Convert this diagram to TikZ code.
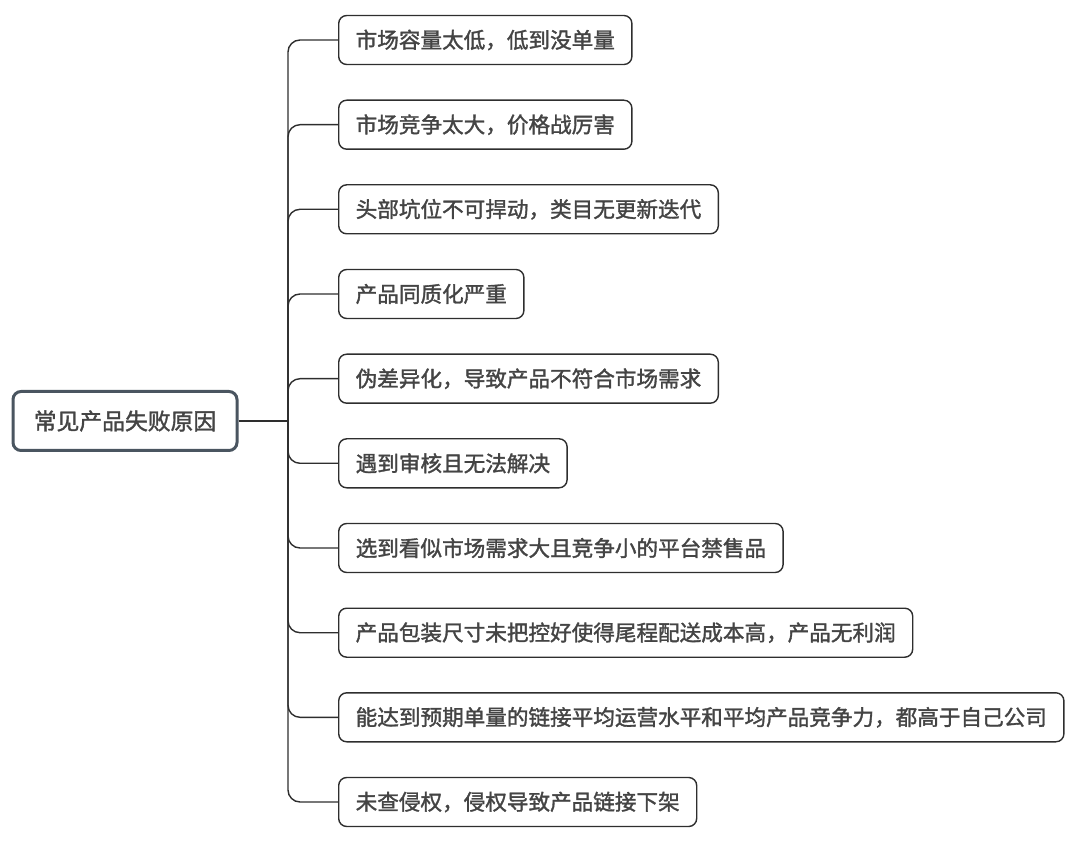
\documentclass[tikz,border=0pt]{standalone}
\usepackage{fontspec}
\setmainfont{Noto Sans CJK SC}[FakeBold=1.5]
\definecolor{txt}{HTML}{444444}
\definecolor{rootline}{HTML}{4A5560}
\definecolor{conn}{HTML}{2E2E2E}
\begin{document}
\begin{tikzpicture}[x=1pt,y=-1pt,
  rootbox/.style={draw=rootline,line width=3pt,rounded corners=8pt,fill=white,text=txt,
    font=\fontsize{22.8}{26}\selectfont,minimum width=224pt,minimum height=59pt,inner sep=0pt},
  leaf/.style={draw=conn,line width=1.4pt,rounded corners=8pt,fill=white,text=txt,
    font=\fontsize{21.6}{25}\selectfont,minimum height=49pt,inner xsep=17pt,inner ysep=0pt,anchor=west},
  link/.style={draw=conn,line width=1.4pt,rounded corners=12pt}]
\useasboundingbox (0,0) rectangle (1080,842);
\node[rootbox] (root) at (125,421) {常见产品失败原因};
\coordinate (j) at (288,421);
\node[leaf] (c1) at (338,40) {市场容量太低，低到没单量};
\node[leaf] (c2) at (338,124.7) {市场竞争太大，价格战厉害};
\node[leaf] (c3) at (338,209.3) {头部坑位不可捍动，类目无更新迭代};
\node[leaf] (c4) at (338,294) {产品同质化严重};
\node[leaf] (c5) at (338,378.7) {伪差异化，导致产品不符合市场需求};
\node[leaf] (c6) at (338,463.3) {遇到审核且无法解决};
\node[leaf] (c7) at (338,548) {选到看似市场需求大且竞争小的平台禁售品};
\node[leaf] (c8) at (338,632.7) {产品包装尺寸未把控好使得尾程配送成本高，产品无利润};
\node[leaf] (c9) at (338,717.3) {能达到预期单量的链接平均运营水平和平均产品竞争力，都高于自己公司};
\node[leaf] (c10) at (338,802) {未查侵权，侵权导致产品链接下架};
\draw[link] (root.east) -- (j);
\foreach \c in {c1,c2,c3,c4,c5,c6,c7,c8,c9,c10}
  \draw[link] (j) |- (\c.west);
\end{tikzpicture}
\end{document}
